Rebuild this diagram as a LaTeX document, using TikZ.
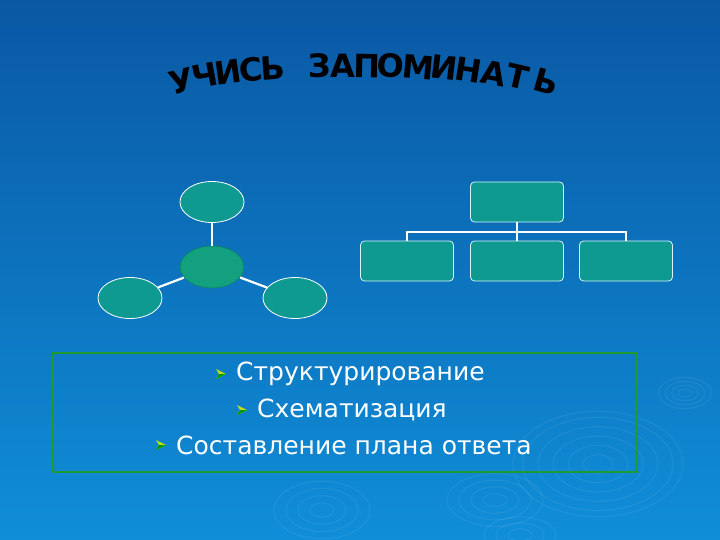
\documentclass[tikz,border=0pt]{standalone}
\usepackage{fontspec}
\setmainfont{DejaVu Sans}
\newfontfamily\titlefont{DejaVu Sans}
\newfontfamily\bodyfont{DejaVu Sans}
\usetikzlibrary{shapes.geometric}
\definecolor{bgtop}{HTML}{0A58A4}
\definecolor{bgbot}{HTML}{108ED8}
\definecolor{tealfill}{HTML}{0E9A90}
\definecolor{centerfill}{HTML}{12A07E}
\definecolor{boxgreen}{HTML}{1E9A2E}
\tikzset{
  oval/.style={ellipse, draw=white, line width=0.8pt, fill=tealfill, minimum width=64pt, minimum height=41pt, inner sep=0pt},
  coval/.style={ellipse, draw=centerfill!80!black, line width=0.6pt, fill=centerfill, minimum width=64pt, minimum height=42pt, inner sep=0pt},
  rbox/.style={rectangle, rounded corners=4pt, draw=white!85!cyan, line width=0.8pt, fill=tealfill, minimum width=93pt, minimum height=40pt, inner sep=0pt},
  link/.style={draw=white, line width=2.2pt},
  tlink/.style={draw=white, line width=1.4pt},
  tl/.style={font=\titlefont\bfseries\fontsize{32}{32}\selectfont, text=black, inner sep=0pt, anchor=center},
  item/.style={font=\bodyfont\fontsize{25}{28}\selectfont, text=white, inner sep=0pt, anchor=west},
  ripple/.style={draw=white, draw opacity=0.06, line width=1.3pt}
}
\newcommand{\arrowbullet}[1]{%
  \fill[yellow!75!green] ([xshift=-5pt,yshift=5pt]#1) -- ([xshift=5pt]#1) -- ([xshift=-5pt,yshift=-5pt]#1) -- ([xshift=-2pt]#1) -- cycle;
  \fill[green!60!black] ([xshift=-5pt,yshift=-5pt]#1) -- ([xshift=5pt]#1) -- ([xshift=-2pt]#1) -- cycle;
}
\begin{document}
\begin{tikzpicture}[x=1pt,y=-1pt]
\useasboundingbox (0,0) rectangle (720,540);
\shade[top color=bgtop, bottom color=bgbot] (0,0) rectangle (720,540);
% ripples
\foreach \r in {6,12,18,24} \draw[ripple] (685,393) ellipse ({\r*1.1} and {\r*0.65});
\foreach \r in {15,30,45,60,75,85} \draw[ripple] (598,464) ellipse ({\r} and {\r*0.62});
\foreach \r in {12,24,36,48} \draw[ripple] (322,510) ellipse ({\r} and {\r*0.6});
\foreach \r in {12,24,36,48} \draw[ripple] (495,500) ellipse ({\r} and {\r*0.55});
\foreach \r in {12,24,36} \draw[ripple] (520,535) ellipse ({\r} and {\r*0.5});
% title letters
\node[tl, rotate=14] (t1) at (182,81) {У};
\node[tl, rotate=11] (t2) at (205,76) {Ч};
\node[tl, rotate=8] (t3) at (228,72) {И};
\node[tl, rotate=6] (t4) at (251,70) {С};
\node[tl, rotate=4] (t5) at (273,68) {Ь};
\node[tl, rotate=1] (t6) at (320,66) {З};
\node[tl, rotate=0] (t7) at (343,66) {А};
\node[tl, rotate=-1] (t8) at (367,66) {П};
\node[tl, rotate=-3] (t9) at (391,66) {О};
\node[tl, rotate=-5] (t10) at (418,67) {М};
\node[tl, rotate=-7] (t11) at (444,68) {И};
\node[tl, rotate=-9] (t12) at (469,70) {Н};
\node[tl, rotate=-11] (t13) at (494,73) {А};
\node[tl, rotate=-13] (t14) at (518,77) {Т};
\node[tl, rotate=-16] (t15) at (546,82) {Ь};
% radial diagram
\node[coval] (c) at (212,267) {};
\node[oval] (top) at (212,202) {};
\node[oval] (bl) at (130,298) {};
\node[oval] (br) at (295,298) {};
\draw[link] (c) -- (top);
\draw[link] (c) -- (bl);
\draw[link] (c) -- (br);
% tree diagram
\node[rbox] (root) at (517,202) {};
\node[rbox] (k1) at (407,261) {};
\node[rbox] (k2) at (517,261) {};
\node[rbox] (k3) at (626,261) {};
\coordinate (j) at (517,232);
\draw[tlink] (root.south) -- (j);
\draw[tlink] (k1.north) |- (j) -| (k3.north);
\draw[tlink] (j) -- (k2.north);
% text box
\coordinate (boxa) at (53,353);
\coordinate (boxb) at (637,472);
\draw[draw=boxgreen, line width=1.5pt] (boxa) rectangle (boxb);
\node[item] (l1) at (236,374) {Структурирование};
\node[item] (l2) at (257,410) {Схематизация};
\node[item] (l3) at (176,445) {Составление плана ответа};
\coordinate (b1) at ([xshift=-15pt]l1.west);
\coordinate (b2) at ([xshift=-15pt]l2.west);
\coordinate (b3) at ([xshift=-15pt]l3.west);
\arrowbullet{b1}
\arrowbullet{b2}
\arrowbullet{b3}
\end{tikzpicture}
\end{document}
